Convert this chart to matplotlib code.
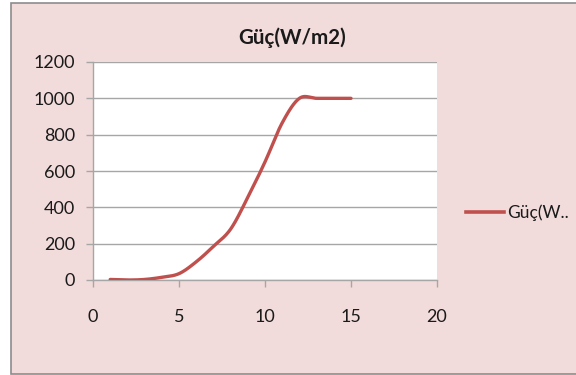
import numpy as np
import matplotlib
matplotlib.use("Agg")
import matplotlib.pyplot as plt
from matplotlib.patches import Rectangle
from matplotlib.lines import Line2D

# Data
wind_speed = [1, 2, 3, 4, 5, 6, 7, 8, 9, 10, 11, 12, 13, 14, 15]
power = [3, 0, 3, 15, 35, 100, 185, 280, 455, 650, 865, 1000, 1000, 1000, 1000]
title = "Güç(W/m2)"
legend_label = "Güç(W.."
x_ticks = [0, 5, 10, 15, 20]
y_ticks = [0, 200, 400, 600, 800, 1000, 1200]

plt.rcParams['font.family'] = ['Lato', 'DejaVu Sans']

W, H = 576, 375
fig = plt.figure(figsize=(W / 100, H / 100), dpi=100)
fig.patch.set_facecolor('white')

pink = '#F2DCDB'
fig.patches.append(Rectangle((10.5 / W, 1 - 373.5 / H), 2.0, (373.5 - 2.5) / H,
                             transform=fig.transFigure, facecolor=pink,
                             edgecolor='#8C8C8C', linewidth=1.2, zorder=-10))

ax = fig.add_axes([93 / W, 1 - 280 / H, (437 - 93) / W, (280 - 62) / H])
ax.set_zorder(5)
ax.set_facecolor('white')


def smooth(xs, ys, n=40):
    xs = np.asarray(xs, float)
    ys = np.asarray(ys, float)
    px = np.concatenate([[xs[0]], xs, [xs[-1]]])
    py = np.concatenate([[ys[0]], ys, [ys[-1]]])
    outx, outy = [], []
    t = np.linspace(0, 1, n)
    for i in range(1, len(px) - 2):
        p0x, p1x, p2x, p3x = px[i - 1], px[i], px[i + 1], px[i + 2]
        p0y, p1y, p2y, p3y = py[i - 1], py[i], py[i + 1], py[i + 2]
        c1x = p1x + (p2x - p0x) / 6
        c1y = p1y + (p2y - p0y) / 6
        c2x = p2x - (p3x - p1x) / 6
        c2y = p2y - (p3y - p1y) / 6
        bx = (1 - t) ** 3 * p1x + 3 * (1 - t) ** 2 * t * c1x + 3 * (1 - t) * t ** 2 * c2x + t ** 3 * p2x
        by = (1 - t) ** 3 * p1y + 3 * (1 - t) ** 2 * t * c1y + 3 * (1 - t) * t ** 2 * c2y + t ** 3 * p2y
        outx.extend(bx)
        outy.extend(by)
    return outx, outy


sx, sy = smooth(wind_speed, power)
line_color = '#C0504D'
ax.plot(sx, sy, color=line_color, linewidth=2.4, solid_capstyle='round', zorder=3)

ax.set_xlim(0, 20)
ax.set_ylim(0, 1200)
ax.set_xticks(x_ticks)
ax.set_yticks(y_ticks)
ax.set_xticklabels([str(v) for v in x_ticks])
ax.set_yticklabels([str(v) for v in y_ticks])
ax.grid(axis='y', color='#A6A6A6', linewidth=1.0)
ax.set_axisbelow(True)
for s in ['top', 'right']:
    ax.spines[s].set_visible(False)
for s in ['left', 'bottom']:
    ax.spines[s].set_color('#A6A6A6')
    ax.spines[s].set_linewidth(1.0)
ax.tick_params(axis='both', direction='out', length=5, width=1, color='#A6A6A6',
               labelsize=13, labelcolor='#1a1a1a')
ax.tick_params(axis='x', pad=16)
ax.tick_params(axis='y', pad=8)

fig.text(292.5 / W, 1 - 38 / H, title, ha='center', va='center', fontsize=14.8,
         fontweight='bold', color='#1a1a1a')

handle = Line2D([], [], color=line_color, linewidth=2.6)
fig.legend([handle], [legend_label], loc='center left',
           bbox_to_anchor=(466 / W, 1 - 213 / H), frameon=False,
           handlelength=2.2, handletextpad=0.15, fontsize=12.5, borderpad=0,
           borderaxespad=0, labelcolor='#1a1a1a')

fig.savefig('out.png', dpi=100, facecolor=fig.get_facecolor())
